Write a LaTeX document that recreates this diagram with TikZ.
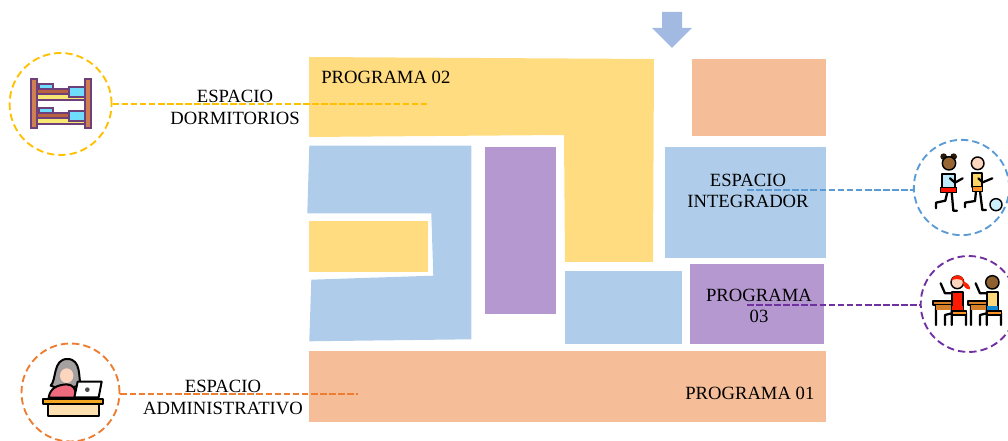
\documentclass[tikz,border=0pt]{standalone}
\usepackage{fontspec}
\setmainfont{Liberation Serif}
\definecolor{cyel}{HTML}{FFDC7F}
\definecolor{cblu}{HTML}{AFCDEA}
\definecolor{cpur}{HTML}{B598D0}
\definecolor{cora}{HTML}{F5BE98}
\definecolor{carr}{HTML}{A2B9E1}
\definecolor{lyel}{HTML}{FFC000}
\definecolor{lora}{HTML}{ED7D31}
\definecolor{lblu}{HTML}{5B9BD5}
\definecolor{lpur}{HTML}{7030A0}
\definecolor{bedo}{HTML}{6E3F78}
\definecolor{bedpost}{HTML}{CF8052}
\definecolor{bedmat}{HTML}{B9623F}
\definecolor{bedyel}{HTML}{F6E873}
\definecolor{bedcya}{HTML}{6FDDFF}
\definecolor{hairg}{HTML}{A5A0A0}
\definecolor{skin}{HTML}{FBD5BE}
\definecolor{shirt}{HTML}{EE6A7C}
\definecolor{deskc}{HTML}{FFE0B0}
\definecolor{deskt}{HTML}{F5A623}
\tikzset{
  zone/.style={fill=#1,draw=none},
  zonelab/.style={font=\fontsize{14}{16.2}\selectfont,inner sep=0pt,align=center,text=black},
  ring/.style={circle,draw=#1,line width=1.4pt,dash pattern=on 5.5pt off 3pt,minimum size=0pt,inner sep=0pt},
  leader/.style={draw=#1,line width=1.1pt,dash pattern=on 5pt off 1.8pt},
  ink/.style={draw=black,line width=1.5pt,line join=round},
  thinink/.style={draw=black,line width=1.1pt,line join=round},
  limb/.style={draw=black,line width=1.7pt,line cap=round,line join=round},
  beds/.style={draw=bedo,line width=1.5pt},
  zoomA/.style={x=.25pt,y=-.25pt}
}
\begin{document}
\begin{tikzpicture}[x=.75pt,y=-.75pt]
\useasboundingbox (0,0) rectangle (1008,441);
\clip (0,0) rectangle (1008,441);
% arrow
\fill[carr] (662,12) -- (682,12) -- (682,28) -- (692,28) -- (672,48) -- (652,28) -- (662,28) -- cycle;
% zones
\path[zone=cyel] (309,57) -- (654,59) -- (653,262) -- (565,262) -- (564,135) -- (309,137) -- cycle;
\path[zone=cblu] (309.3,145.7) -- (471.3,145.7) -- (471.3,339.3) -- (309.3,341.3) -- (311.3,279.7) -- (433.3,275.7) -- (431.3,213.3) -- (307.3,213.3) -- cycle;
\path[zone=cyel] (309,221) rectangle (428,272);
\path[zone=cpur] (485,147) rectangle (556,314);
\path[zone=cora] (692,59) rectangle (826,136);
\path[zone=cblu] (665,147) rectangle (826,258);
\path[zone=cblu] (565,271) rectangle (682,344);
\path[zone=cpur] (690,264) rectangle (824,344);
\path[zone=cora] (309,351) rectangle (826,422);
% rings
\node[ring=lyel,minimum size=76.5pt] (rbed) at (60.6,104) {};
\node[ring=lora,minimum size=73.5pt] (radm) at (70.5,392.5) {};
\node[ring=lblu,minimum size=71.5pt] (rint) at (961.5,187.5) {};
\node[ring=lpur,minimum size=72pt] (rpro) at (968.7,304) {};
% leaders
\coordinate (ebed) at (428,104);
\coordinate (eadm) at (358,394);
\coordinate (eint) at (747,190);
\coordinate (epro) at (747,305);
\draw[leader=lyel] (rbed.east) -- (ebed);
\draw[leader=lora] (radm.east |- eadm) -- (eadm);
\draw[leader=lblu] (eint) -- (eint -| rint.west);
\draw[leader=lpur] (epro) -- (epro -| rpro.west);
% labels
\node[zonelab,anchor=west] (t1) at (321,77) {PROGRAMA 02};
\node[zonelab] (t2) at (235,107.5) {ESPACIO\\DORMITORIOS};
\node[zonelab] (t3) at (223,397.5) {ESPACIO\\ADMINISTRATIVO};
\node[zonelab] (t4) at (748,191) {ESPACIO\\INTEGRADOR};
\node[zonelab] (t5) at (759,306) {PROGRAMA\\03};
\node[zonelab,anchor=west] (t6) at (685,393) {PROGRAMA 01};
% bed icon
\begin{scope}[shift={(0,40)},zoomA]
\foreach \dy in {0,72}{
  \path[beds,fill=bedcya] (117,132+\dy) rectangle (160,146+\dy);
  \path[beds,fill=bedyel] (111,163+\dy) rectangle (255,179+\dy);
  \path[beds,fill=bedmat] (111,146+\dy) rectangle (207,163+\dy);
  \path[beds,fill=bedcya] (207,141+\dy) rectangle (255,172+\dy);
}
\path[beds,fill=bedpost] (93,118) rectangle (111,265);
\path[beds,fill=bedpost] (255,118) rectangle (272,265);
\end{scope}
% woman icon
\begin{scope}[shift={(10,335)},zoomA]
\path[ink,fill=hairg] (122,152) .. controls (140,135) and (128,72) .. (172,72) .. controls (215,72) and (205,130) .. (212,150) -- (160,165) -- cycle;
\path[ink,fill=shirt] (116,188) .. controls (120,160) and (140,150) .. (170,148) .. controls (190,150) and (200,160) .. (196,188) -- cycle;
\path[fill=skin] (170,122) ellipse [x radius=20,y radius=22];
\path[ink,fill=white] (203,140) -- (275,140) -- (266,187) -- (193,187) -- cycle;
\fill[black!70] (232,164) circle (7);
\path[ink,fill=deskc] (113,205) rectangle (267,243);
\path[ink,fill=deskt] (99,191) rectangle (280,206);
\end{scope}
% kids icon
\begin{scope}[shift={(900,130)},zoomA]
\fill[black!80!brown] (131,80) circle (10) (161,80) circle (10);
\path[thinink,fill=brown!80!black] (147,100) circle (20);
\path[limb] (155,186) -- (160,242) -- (171,242);
\path[limb] (142,186) -- (136,212) -- (108,218) -- (108,235);
\path[ink,fill=cyan!25] (127,132) rectangle (165,175);
\path[thinink,fill=red!85!orange] (122,172) rectangle (170,188);
\path[limb] (150,145) -- (165,158) -- (188,145);
\path[thinink,fill=skin] (233,100) circle (19);
\path[limb] (240,184) -- (247,240) -- (258,240);
\path[limb] (228,184) -- (225,213) -- (195,218) -- (195,232);
\path[ink,fill=yellow!50!orange!60] (215,130) rectangle (247,172);
\path[thinink,fill=orange!85] (218,170) rectangle (247,185);
\path[limb] (235,145) -- (248,157) -- (277,145);
\path[thinink,fill=cyan!20] (288,224) circle (18);
\end{scope}
% students icon
\begin{scope}[shift={(900,250)},zoomA]
\foreach \dx/\body/\band in {0/red!80!orange/red!80!orange,105/yellow!45!orange!50/cyan!70!blue}{
  \begin{scope}[xshift=\dx*.25pt]
  \path[limb] (108,165) -- (108,225) (155,165) -- (155,225) (198,190) -- (198,225) (135,225) -- (135,195) -- (155,190);
  \path[ink,fill=brown!60!orange] (100,152) rectangle (158,166);
  \path[draw=none,fill=brown!65!orange] (108,166) rectangle (155,181);
  \path[limb] (158,130) -- (135,130) -- (122,100);
  \path[ink,fill=\body] (155,125) rectangle (190,183);
  \path[draw=none,fill=\band] (156,167) rectangle (189,182);
  \path[thinink,fill=orange!85] (158,183) rectangle (200,195);
  \end{scope}
}
\path[thinink,fill=skin] (172,97) circle (19);
\fill[red!75!orange] (153,92) .. controls (160,70) and (190,70) .. (192,95) .. controls (180,85) and (165,85) .. (153,92) -- cycle;
\fill[red!75!orange] (188,95) .. controls (200,95) and (212,108) .. (210,118) .. controls (198,118) and (190,112) .. (188,95) -- cycle;
\path[thinink,fill=brown!75!black] (277,97) circle (20);
\end{scope}
\end{tikzpicture}
\end{document}
